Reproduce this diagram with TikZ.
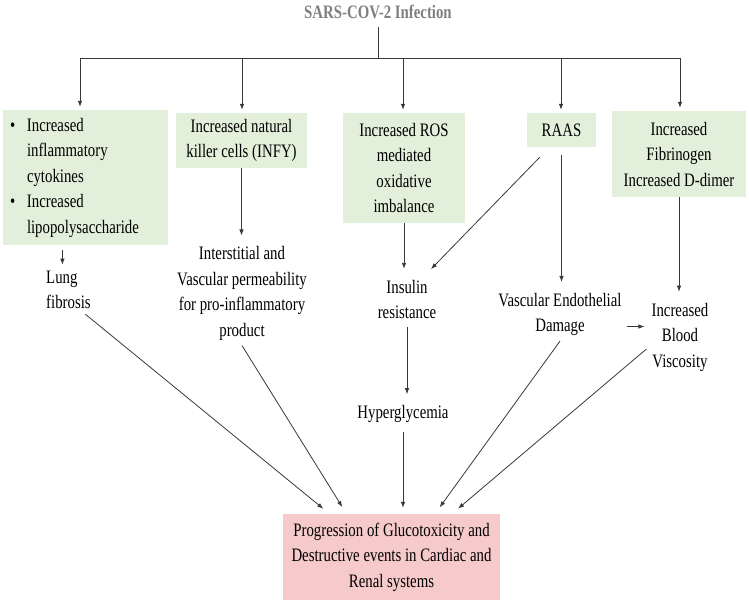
\documentclass[tikz,border=0pt]{standalone}
\usepackage{fontspec}
\setmainfont{Liberation Serif}[FakeStretch=0.78]
\usetikzlibrary{arrows.meta}

\definecolor{boxgreen}{HTML}{E2EFDA}
\definecolor{boxpink}{HTML}{F6CACA}
\definecolor{titlegray}{HTML}{7F7F7F}
\definecolor{linegray}{HTML}{383838}

\begin{document}
\begin{tikzpicture}[x=1pt,y=-1pt,
  every node/.style={font=\fontsize{19}{25.5}\selectfont},
  greenbox/.style={fill=boxgreen, align=center, inner sep=0pt},
  pinkbox/.style={fill=boxpink, align=center, inner sep=0pt},
  plain/.style={align=center, inner sep=5pt},
  link/.style={draw=linegray, line width=0.8pt},
  arr/.style={link, -{Latex[length=6pt,width=4.5pt]}, shorten >=6pt}]

\useasboundingbox (0,0) rectangle (749,602);

\node (sars) at (378,12) {\bfseries\color{titlegray}SARS-COV-2 Infection};

\coordinate (hub) at (378,58);
\coordinate (br1) at (80,58);
\coordinate (br2) at (242,58);
\coordinate (br3) at (403,58);
\coordinate (br4) at (561,58);
\coordinate (br5) at (680,58);

\draw[link, shorten <=5pt] (sars) -- (hub);
\draw[link] (br1) -- (br5);

% first row of boxes
\node[greenbox, align=left, text width=151pt, inner xsep=7pt, minimum height=135] (infl) at (85.5,177.5)
  {\makebox[17pt][l]{\textbullet}Increased\\\hspace*{17pt}inflammatory\\\hspace*{17pt}cytokines\\
   \makebox[17pt][l]{\textbullet}Increased\\\hspace*{17pt}lipopolysaccharide};
\node[greenbox, minimum width=131, minimum height=55] (nk) at (241.5,140.5) {Increased natural\\killer cells (INFY)};
\node[greenbox, minimum width=122, minimum height=110] (ros) at (404,168) {Increased ROS\\mediated\\oxidative\\imbalance};
\node[greenbox, minimum width=69, minimum height=34] (raas) at (561.5,130) {RAAS};
\node[greenbox, minimum width=134, minimum height=86] (fib) at (679,154) {Increased\\Fibrinogen\\Increased D-dimer};

\foreach \b/\n in {br1/infl, br2/nk, br3/ros, br4/raas, br5/fib}
  \draw[arr, shorten >=3pt] (\b) -- (\b |- \n.north);

% effects
\node[plain, anchor=west, align=left] (lung) at (41,290) {Lung\\fibrosis};
\node[plain] (perm) at (242,293.5) {Interstitial and\\Vascular permeability\\for pro-inflammatory\\product};
\node[plain] (insulin) at (407,299.5) {Insulin\\resistance};
\node[plain] (endo) at (560,314.5) {Vascular Endothelial\\Damage};
\node[plain] (visc) at (680,337) {Increased\\Blood\\Viscosity};
\node[plain] (hyper) at (403,414) {Hyperglycemia};

\node[pinkbox, minimum width=217, minimum height=86] (prog) at (391.5,557)
  {Progression of Glucotoxicity and\\Destructive events in Cardiac and\\Renal systems};

\draw[arr, shorten <=5pt, shorten >=1pt] ([xshift=-6pt]lung.north |- infl.south) -- ([xshift=-6pt]lung.north);
\draw[arr] (nk.south) -- (nk.south |- perm.north);
\draw[arr] (ros.south) -- (ros.south |- insulin.north);
\draw[arr, shorten <=14pt, shorten >=8pt] ([xshift=-12pt]raas.south) -- ([xshift=-16pt]insulin.north east);
\draw[arr, shorten <=8pt] (raas.south) -- (raas.south |- endo.north);
\draw[arr] (fib.south) -- (fib.south |- visc.north);
\draw[arr, shorten <=3pt] (insulin.south) -- (insulin.south |- hyper.north);
\draw[arr, shorten >=2pt] ([yshift=-12pt]endo.east) -- ([yshift=-12pt]endo.east -| visc.west);

% into the last box
\draw[arr, shorten >=8pt] ([xshift=17pt]lung.south) -- ([xshift=-62pt]prog.north);
\draw[arr, shorten >=8pt] (perm.south) -- ([xshift=-45pt]prog.north);
\draw[arr, shorten <=4pt] (hyper.south) -- (hyper.south |- prog.north);
\draw[arr, shorten >=8pt] (endo.south) -- ([xshift=43.5pt]prog.north);
\draw[arr, shorten >=8pt] ([yshift=-12pt]visc.west) -- ([xshift=60.5pt]prog.north);

\end{tikzpicture}
\end{document}
